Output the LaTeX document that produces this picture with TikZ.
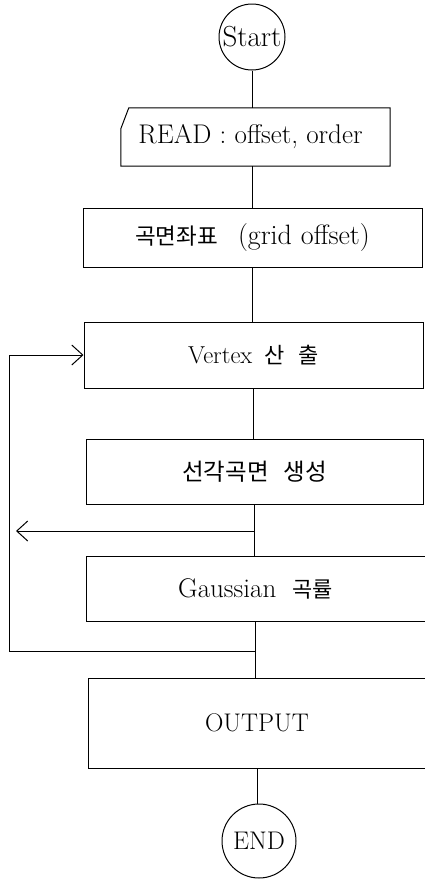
\documentclass[tikz,border=0pt]{standalone}
\usepackage{fontspec}
\newfontfamily\kr{Noto Sans CJK KR}
\usetikzlibrary{arrows.meta}
\newcommand\kor[2][22]{{\kr\fontsize{#1}{26}\selectfont #2}}
\begin{document}
\begin{tikzpicture}[x=1pt,y=-1pt,
  every node/.style={font=\fontsize{26}{30}\selectfont, inner sep=0pt},
  box/.style={draw, rectangle, line width=1pt},
  term/.style={draw, circle, line width=1pt},
  link/.style={line width=1pt},
  arr/.style={line width=1pt, -{Straight Barb[length=11pt,width=20pt,line width=1pt]}}]
\useasboundingbox (0,0) rectangle (424,879);
\node[term, minimum size=66pt, font=\fontsize{29}{33}\selectfont] (start) at (252,37) {Start};
\node[minimum width=269pt, minimum height=58pt, font=\fontsize{27}{31}\selectfont] (read) at (255.5,137) {\hspace*{-10pt}READ : offset, order};
\draw[link] ([xshift=8pt]read.north west) -- (read.north east) -- (read.south east) -- (read.south west) -- ([yshift=-21pt]read.north west) -- cycle;
\node[box, minimum width=339pt, minimum height=59pt, font=\fontsize{28}{32}\selectfont] (grid) at (252.5,237.5) {\kor[22.5]{곡면좌표}\hspace{20pt}(grid\hspace{9pt}offset)};
\node[box, minimum width=339pt, minimum height=66pt, font=\fontsize{24.5}{30}\selectfont] (vertex) at (253.5,355) {Vertex\hspace{12pt}\kor{산\hspace{14pt}출}};
\node[box, minimum width=337pt, minimum height=65pt] (sungak) at (254.5,471.5) {\kor[23.5]{선각곡면\hspace{15pt}생성}};
\node[box, minimum width=339pt, minimum height=65pt, font=\fontsize{27}{31}\selectfont] (gauss) at (255.5,588.5) {Gaussian\hspace{16pt}\kor{곡률}};
\node[box, minimum width=338pt, minimum height=90pt, font=\fontsize{25.5}{30}\selectfont] (output) at (257,723) {OUTPUT};
\node[term, minimum size=74pt, font=\fontsize{25.5}{30}\selectfont] (end) at (259,841) {END};
\draw[link] (start.south) -- (start.south |- read.north);
\draw[link] (read.south -| grid.north) -- (grid.north);
\draw[link] (grid.south) -- (grid.south |- vertex.north);
\draw[link] (vertex.south) -- (vertex.south |- sungak.north);
\draw[link] (sungak.south) -- (sungak.south |- gauss.north);
\draw[link] (gauss.south) -- (gauss.south |- output.north);
\draw[link] (output.south) -- (output.south |- end.north);
\coordinate (br) at (254.5,531);
\coordinate (brend) at (16,531);
\draw[arr] (br) -- (brend);
\coordinate (lp0) at (255.5,651);
\coordinate (lp1) at (9,651);
\coordinate (lp2) at (9,355);
\draw[arr] (lp0) -- (lp1) -- (lp2) -- (vertex.west);
\end{tikzpicture}
\end{document}
